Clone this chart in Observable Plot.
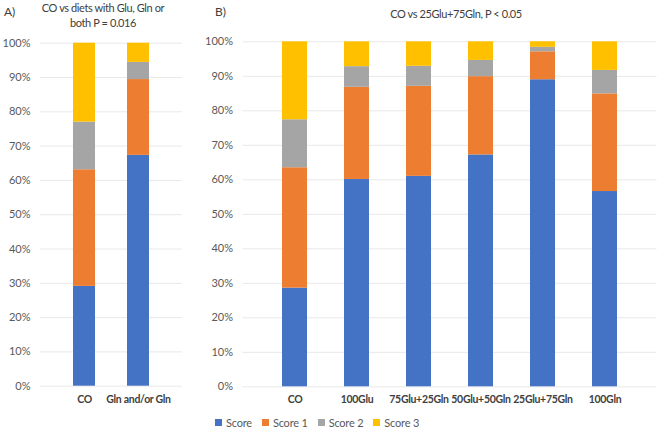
<!DOCTYPE html>
<html>
<head>
<meta charset="utf-8">
<script src="https://cdn.jsdelivr.net/npm/d3@7"></script>
<script src="https://cdn.jsdelivr.net/npm/@observablehq/plot@0.6"></script>
<style>
  html, body { margin: 0; padding: 0; background: #fff; }
  #wrap { position: relative; width: 660px; height: 432px; font-family: Lato, "Open Sans", sans-serif; color: #404040; overflow: hidden; }
  .abs { position: absolute; }
  .panel-label { font-size: 12px; }
  .title { font-size: 11px; letter-spacing: -0.4px; text-align: center; line-height: 15.4px; white-space: nowrap; }
  .legend { font-size: 11px; letter-spacing: -0.2px; color: #595959; display: flex; align-items: center; white-space: nowrap; }
  .legend .sw { display: inline-block; width: 7px; height: 7px; margin-right: 4px; }
  .legend .item { display: flex; align-items: center; margin-right: 10px; }
  g[aria-label="x-axis tick label"] { letter-spacing: -0.3px; }
</style>
</head>
<body>
<div id="wrap"></div>
<script>
// ---- Data ----
const series = ["Score", "Score 1", "Score 2", "Score 3"];
const seriesColors = ["#4472C4", "#ED7D31", "#A5A5A5", "#FFC000"];

const categoriesA = ["CO", "Gln and/or Gln"];
const scoreA  = [29.1, 67.3];
const score1A = [34.0, 22.1];
const score2A = [13.9, 5.0];
const score3A = [23.0, 5.6];

const categoriesB = ["CO", "100Glu", "75Glu+25Gln", "50Glu+50Gln", "25Glu+75Gln", "100Gln"];
const scoreB  = [28.6, 60.1, 61.0, 67.2, 89.0, 56.6];
const score1B = [34.9, 26.7, 26.1, 22.7, 8.1, 28.3];
const score2B = [13.9, 6.0, 5.8, 4.7, 1.3, 6.8];
const score3B = [22.6, 7.2, 7.1, 5.4, 1.6, 8.3];

const yTicks = [0, 10, 20, 30, 40, 50, 60, 70, 80, 90, 100];

const titleA = ["CO vs diets with Glu, Gln or", "both P = 0.016"];
const titleB = "CO vs 25Glu+75Gln, P < 0.05";

function toRows(cats, arrs) {
  const rows = [];
  cats.forEach((c, i) => {
    series.forEach((s, j) => rows.push({cat: c, series: s, value: arrs[j][i]}));
  });
  return rows;
}

function panel(cats, arrs, opts) {
  return Plot.plot({
    width: opts.width,
    height: 410,
    marginTop: opts.marginTop,
    marginBottom: opts.marginBottom,
    marginLeft: opts.marginLeft,
    marginRight: opts.marginRight,
    style: {fontFamily: "Lato, 'Open Sans', sans-serif", fontSize: "11px", color: "#595959", background: "transparent"},
    x: {domain: cats, padding: opts.padding, align: 0.5, label: null},
    y: {domain: [0, 100], label: null},
    color: {domain: series, range: seriesColors},
    marks: [
      Plot.ruleY(yTicks, {stroke: "#e8e8e8", strokeWidth: 1}),
      Plot.barY(toRows(cats, arrs), {x: "cat", y: "value", fill: "series", z: "series", order: series}),
      Plot.axisY(yTicks, {tickSize: 0, tickPadding: 10, tickFormat: d => d + "%", fontSize: 11, fill: "#595959", label: null}),
      Plot.axisX({tickSize: 0, tickPadding: 9, fontWeight: "bold", fontSize: 10.5, fill: "#404040", label: null})
    ]
  });
}

const wrap = document.getElementById("wrap");

const plotA = panel(categoriesA, [scoreA, score1A, score2A, score3A],
  {width: 186, marginTop: 42.7, marginBottom: 410 - 385.7, marginLeft: 40, marginRight: 4, padding: 0.6});
plotA.classList.add("abs");
plotA.style.left = "0px"; plotA.style.top = "0px";
wrap.appendChild(plotA);

const plotB = panel(categoriesB, [scoreB, score1B, score2B, score3B],
  {width: 470, marginTop: 41.3, marginBottom: 410 - 386.3, marginLeft: 52.5, marginRight: 3.5, padding: 0.594});
plotB.classList.add("abs");
plotB.style.left = "190px"; plotB.style.top = "0px";
wrap.appendChild(plotB);

function addDiv(cls, html, css) {
  const d = document.createElement("div");
  d.className = "abs " + cls;
  d.innerHTML = html;
  Object.assign(d.style, css);
  wrap.appendChild(d);
  return d;
}

addDiv("panel-label", "A)", {left: "4px", top: "4px"});
addDiv("panel-label", "B)", {left: "215px", top: "4px"});
addDiv("title", titleA.join("<br>"), {left: "3px", width: "200px", top: "0px"});
addDiv("title", titleB, {left: "356px", width: "200px", top: "6px"});

const legend = addDiv("legend", "", {left: "215px", top: "416px"});
series.forEach((s, i) => {
  const it = document.createElement("span");
  it.className = "item";
  it.innerHTML = `<span class="sw" style="background:${seriesColors[i]}"></span>${s}`;
  legend.appendChild(it);
});
</script>
</body>
</html>
